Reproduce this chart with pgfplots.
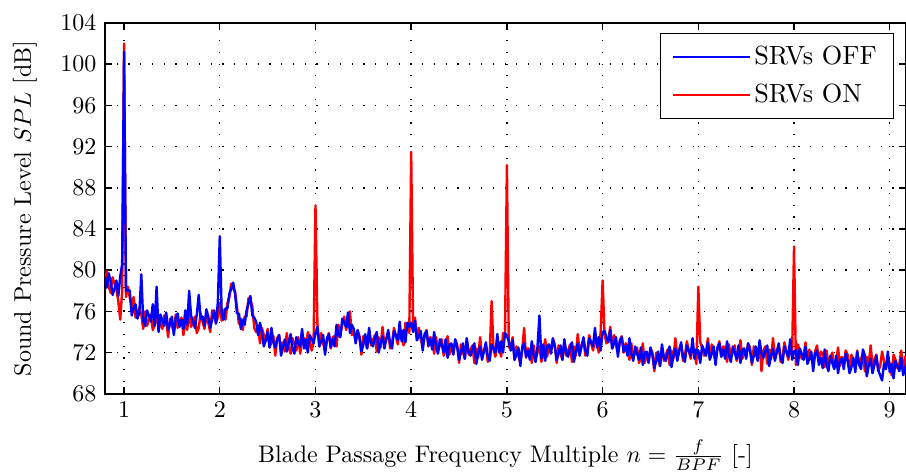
\documentclass[border=0pt]{standalone}
\usepackage{pgfplots}
\usepackage{pgfplotstable}
\pgfplotsset{compat=1.18}

% Narrow-band SPL spectra, n = f/BPF; columns: n, SRVs ON, SRVs OFF (dB)
\pgfplotstableread{
n on off
0.80 79.1 79.4
0.82 79.9 78.3
0.84 78.4 79.7
0.86 77.8 78.9
0.88 79.3 77.6
0.90 78.7 78.2
0.92 78.1 79.0
0.94 77.0 77.5
0.96 75.2 79.4
0.98 78.0 80.6
1.00 102.0 101.2
1.02 77.4 78.0
1.04 78.4 78.1
1.06 77.3 78.0
1.08 76.4 75.6
1.10 77.4 76.3
1.12 75.4 76.7
1.14 75.8 75.3
1.16 76.3 75.9
1.18 75.7 79.6
1.20 74.3 75.1
1.22 76.0 74.6
1.24 74.6 76.1
1.26 75.2 75.6
1.28 75.7 75.0
1.30 74.2 76.7
1.32 74.7 74.6
1.34 76.1 78.4
1.36 74.2 74.0
1.38 75.1 75.7
1.40 74.3 75.1
1.42 75.6 74.6
1.44 75.2 75.9
1.46 73.5 74.2
1.48 75.3 74.8
1.50 74.6 75.5
1.52 74.0 73.7
1.54 75.7 75.4
1.56 74.4 75.8
1.58 74.9 74.5
1.60 75.4 75.2
1.62 73.7 74.3
1.64 75.1 76.1
1.66 74.2 74.7
1.68 76.2 78.0
1.70 74.5 75.6
1.72 75.0 75.0
1.74 75.5 74.4
1.76 73.9 75.7
1.78 74.4 77.6
1.80 75.8 75.3
1.82 75.0 75.5
1.84 74.3 74.6
1.86 75.6 76.2
1.88 74.9 75.5
1.90 74.0 74.4
1.92 76.1 75.2
1.94 75.6 76.1
1.96 74.9 74.8
1.98 75.4 76.9
2.00 76.8 83.3
2.02 75.1 75.8
2.04 76.1 75.2
2.06 75.2 76.3
2.08 76.8 76.3
2.10 77.4 77.7
2.12 78.7 78.2
2.14 78.2 78.8
2.16 77.9 77.7
2.18 76.4 75.8
2.20 74.8 75.8
2.22 75.3 74.3
2.24 74.2 75.2
2.26 75.5 74.7
2.28 75.5 76.1
2.30 77.3 76.8
2.32 77.1 77.5
2.34 76.5 75.6
2.36 74.4 75.4
2.38 74.0 75.0
2.40 74.6 73.7
2.42 72.9 74.9
2.44 74.4 74.0
2.46 73.7 72.6
2.48 73.1 73.2
2.50 74.3 74.0
2.52 72.5 72.5
2.54 73.0 74.4
2.56 73.6 73.0
2.58 71.7 72.5
2.60 73.4 73.3
2.62 73.7 73.7
2.64 72.4 71.7
2.66 73.0 72.6
2.68 72.1 73.3
2.70 73.9 72.1
2.72 72.5 72.9
2.74 71.9 73.8
2.76 73.4 72.4
2.78 72.8 71.9
2.80 72.2 73.5
2.82 73.5 73.0
2.84 71.9 72.6
2.86 73.2 74.3
2.88 73.4 72.4
2.90 72.4 73.3
2.92 74.0 72.0
2.94 73.3 73.7
2.96 72.2 73.3
2.98 73.0 72.9
3.00 86.3 73.9
3.02 74.8 74.5
3.04 72.6 72.6
3.06 73.9 73.1
3.08 72.9 73.7
3.10 72.1 71.8
3.12 73.2 73.4
3.14 73.9 73.8
3.16 72.4 72.5
3.18 73.5 73.3
3.20 73.6 72.6
3.22 72.6 74.7
3.24 74.7 73.7
3.26 73.8 73.5
3.28 74.7 75.3
3.30 75.5 74.9
3.32 74.2 74.5
3.34 74.9 75.9
3.36 76.0 73.9
3.38 73.7 74.7
3.40 74.1 74.3
3.42 73.0 72.9
3.44 74.1 74.2
3.46 73.6 73.4
3.48 71.8 72.1
3.50 73.6 72.8
3.52 73.0 73.8
3.54 72.4 72.4
3.56 74.1 74.4
3.58 72.7 73.0
3.60 73.2 72.6
3.62 73.7 73.4
3.64 72.1 74.0
3.66 73.5 72.0
3.68 72.5 72.9
3.70 74.5 73.6
3.72 72.8 72.4
3.74 73.4 73.3
3.76 73.9 74.2
3.78 72.4 72.9
3.80 72.9 72.4
3.82 74.4 74.1
3.84 73.6 73.7
3.86 72.8 73.2
3.88 74.1 75.0
3.90 73.5 73.1
3.92 72.7 74.2
3.94 74.9 73.0
3.96 74.6 74.9
3.98 73.9 74.5
4.00 91.5 74.9
4.02 74.3 74.0
4.04 75.4 75.1
4.06 73.2 73.2
4.08 74.4 73.6
4.10 73.3 74.1
4.12 72.5 72.2
4.14 73.6 73.8
4.16 74.2 74.1
4.18 72.6 72.7
4.20 73.5 73.3
4.22 73.3 72.3
4.24 71.9 74.0
4.26 73.5 72.5
4.28 72.2 71.9
4.30 72.7 73.3
4.32 73.3 72.7
4.34 71.7 72.0
4.36 72.3 73.3
4.38 73.6 71.5
4.40 71.8 72.8
4.42 72.7 72.9
4.44 71.9 71.8
4.46 73.2 73.3
4.48 72.8 72.6
4.50 71.0 71.3
4.52 72.8 72.0
4.54 72.1 72.9
4.56 71.4 71.4
4.58 73.1 73.4
4.60 71.8 72.1
4.62 72.3 71.7
4.64 72.7 72.4
4.66 71.0 72.9
4.68 72.4 70.9
4.70 71.5 71.9
4.72 73.5 72.6
4.74 71.7 71.3
4.76 72.2 72.1
4.78 72.7 73.0
4.80 71.1 71.6
4.82 71.7 71.2
4.84 77.0 72.8
4.86 72.3 72.4
4.88 71.6 72.0
4.90 72.9 73.8
4.92 72.4 72.0
4.94 71.6 73.1
4.96 73.9 72.0
4.98 73.6 73.9
5.00 90.2 73.6
5.02 72.5 73.1
5.04 72.5 72.2
5.06 73.5 73.2
5.08 71.3 71.3
5.10 72.6 71.8
5.12 71.7 72.5
5.14 71.0 70.7
5.16 72.3 72.5
5.18 74.4 72.9
5.20 71.5 71.6
5.22 72.4 72.2
5.24 72.3 71.3
5.26 71.0 73.1
5.28 72.7 71.7
5.30 71.4 71.1
5.32 72.0 72.6
5.34 72.6 75.6
5.36 71.1 71.4
5.38 71.8 72.8
5.40 73.3 71.2
5.42 71.6 72.6
5.44 72.6 72.8
5.46 72.0 71.9
5.48 73.3 73.4
5.50 72.8 72.6
5.52 71.0 71.3
5.54 72.7 71.9
5.56 71.9 72.7
5.58 71.3 71.3
5.60 73.0 73.3
5.62 71.7 72.0
5.64 72.2 71.6
5.66 72.8 72.5
5.68 71.1 73.0
5.70 72.6 71.1
5.72 71.7 72.1
5.74 73.8 72.9
5.76 72.1 71.7
5.78 72.7 72.6
5.80 73.2 73.5
5.82 71.7 72.2
5.84 72.2 71.7
5.86 73.7 73.4
5.88 72.9 73.0
5.90 72.2 72.6
5.92 73.5 74.4
5.94 72.9 72.5
5.96 72.0 73.5
5.98 74.1 72.2
6.00 79.0 74.0
6.02 73.8 74.1
6.04 72.9 73.5
6.06 73.3 73.0
6.08 74.5 74.2
6.10 72.4 72.4
6.12 73.7 72.9
6.14 72.7 73.5
6.16 71.9 71.6
6.18 73.0 73.2
6.20 73.6 73.5
6.22 72.0 72.1
6.24 72.9 72.7
6.26 72.7 71.7
6.28 71.3 73.4
6.30 72.9 71.9
6.32 71.5 71.2
6.34 72.0 72.6
6.36 72.5 71.9
6.38 71.0 71.3
6.40 71.5 72.5
6.42 72.9 70.8
6.44 71.0 72.0
6.46 71.9 72.1
6.48 71.1 71.0
6.50 72.4 72.5
6.52 72.0 71.8
6.54 70.2 70.5
6.56 72.0 71.2
6.58 71.3 72.1
6.60 70.7 70.7
6.62 72.5 72.8
6.64 71.2 71.5
6.66 71.8 71.2
6.68 72.3 72.0
6.70 70.8 72.6
6.72 72.2 70.6
6.74 71.4 71.7
6.76 73.4 72.4
6.78 71.7 71.2
6.80 72.3 72.1
6.82 72.8 73.0
6.84 71.2 71.6
6.86 71.7 71.1
6.88 73.1 72.7
6.90 72.2 72.2
6.92 71.4 71.7
6.94 72.6 73.4
6.96 71.9 71.4
6.98 70.9 72.3
7.00 78.4 72.2
7.02 73.0 71.0
7.04 72.5 72.7
7.06 71.7 72.2
7.08 72.1 71.7
7.10 73.4 73.0
7.12 71.4 71.3
7.14 72.8 71.9
7.16 71.9 72.6
7.18 71.2 70.8
7.20 72.4 72.5
7.22 73.1 72.9
7.24 71.6 71.6
7.26 72.6 72.3
7.28 72.5 71.4
7.30 71.1 73.1
7.32 72.8 71.7
7.34 71.5 71.1
7.36 72.1 72.6
7.38 72.7 72.0
7.40 71.2 71.4
7.42 71.8 72.7
7.44 73.2 71.0
7.46 71.4 72.3
7.48 72.3 72.4
7.50 71.6 71.4
7.52 72.9 72.9
7.54 72.5 72.2
7.56 70.8 71.0
7.58 72.6 71.7
7.60 71.9 72.6
7.62 71.3 71.2
7.64 73.0 73.2
7.66 70.2 71.9
7.68 72.2 71.5
7.70 72.6 72.2
7.72 70.9 72.7
7.74 72.3 70.7
7.76 71.4 71.7
7.78 73.4 72.4
7.80 71.7 71.2
7.82 72.2 72.0
7.84 72.7 72.9
7.86 71.1 71.5
7.88 71.6 71.0
7.90 73.0 72.6
7.92 72.1 72.1
7.94 71.3 71.6
7.96 72.5 73.3
7.98 71.8 71.3
8.00 82.3 72.1
8.02 70.8 72.2
8.04 72.8 70.8
8.06 72.2 72.4
8.08 71.4 71.9
8.10 71.7 71.3
8.12 73.0 72.6
8.14 71.0 70.9
8.16 72.3 71.4
8.18 71.4 72.1
8.20 70.9 70.2
8.22 72.1 71.9
8.24 72.7 72.2
8.26 71.1 70.8
8.28 72.1 71.5
8.30 71.9 70.5
8.32 70.6 72.3
8.34 72.2 70.8
8.36 70.9 70.2
8.38 71.5 71.7
8.40 72.0 71.0
8.42 70.5 70.4
8.44 71.1 71.7
8.46 72.5 70.0
8.48 70.7 71.3
8.50 71.6 71.4
8.52 70.9 70.4
8.54 72.2 71.9
8.56 71.8 71.2
8.58 70.1 70.0
8.60 71.8 70.6
8.62 71.1 71.5
8.64 70.5 70.1
8.66 72.2 72.1
8.68 70.9 70.8
8.70 71.4 70.4
8.72 71.9 72.3
8.74 70.2 71.7
8.76 71.6 69.7
8.78 70.7 70.7
8.80 72.7 71.4
8.82 70.8 70.0
8.84 71.3 70.8
8.86 71.8 71.7
8.88 70.2 70.3
8.90 70.7 69.8
8.92 72.1 69.3
8.94 71.2 70.9
8.96 70.4 70.4
8.98 71.6 72.1
9.00 70.9 70.1
9.02 69.8 70.9
9.04 71.8 69.5
9.06 71.3 71.2
9.08 70.5 70.7
9.10 70.9 70.2
9.12 72.2 71.5
9.14 70.2 69.8
9.16 71.6 70.4
9.18 70.7 71.1
}\spl

\definecolor{offblue}{rgb}{0,0,1}
\definecolor{onred}{rgb}{1,0,0}

\begin{document}
\begin{tikzpicture}
% page area: axis box plus room for labels; the right spine sits on the page edge
\useasboundingbox (-43.75pt,-33pt) rectangle (334pt,164.2pt);
\begin{axis}[
  scale only axis,
  width=334pt, height=154.6pt,
  at={(0pt,0pt)}, anchor=south west,
  xmin=0.8, xmax=9.17,
  ymin=68, ymax=104,
  xtick={1,2,...,9},
  ytick={68,72,...,104},
  tick align=inside,
  major tick length=3pt,
  tick style={black, line width=0.6pt},
  axis line style={line width=0.6pt},
  grid=major,
  grid style={black, line width=0.6pt, dash pattern=on 0.5pt off 4.4pt},
  xlabel={Blade Passage Frequency Multiple $n=\frac{f}{BPF}$ [-]},
  xlabel style={yshift=-2.5pt},
  ylabel={Sound Pressure Level $SPL$ [dB]},
  ylabel style={yshift=3pt},
  legend cell align=left,
  legend style={
    at={(0.985,0.973)}, anchor=north east,
    font=\fontsize{10.95}{13}\selectfont,
    inner xsep=5pt, inner ysep=3pt, row sep=3pt,
  },
  legend image code/.code={\fill[#1] (0pt,-0.4pt) rectangle (32pt,0.4pt);},
]
% legend entries
\addlegendimage{fill=offblue, draw=none}
\addlegendentry{SRVs OFF}
\addlegendimage{fill=onred, draw=none}
\addlegendentry{SRVs ON}
% spectra: ON underneath, OFF on top
\addplot[onred, line width=1pt, line join=round, forget plot] table[x=n, y=on] {\spl};
\addplot[offblue, line width=1pt, line join=round, forget plot] table[x=n, y=off] {\spl};
\end{axis}
\end{tikzpicture}
\end{document}
